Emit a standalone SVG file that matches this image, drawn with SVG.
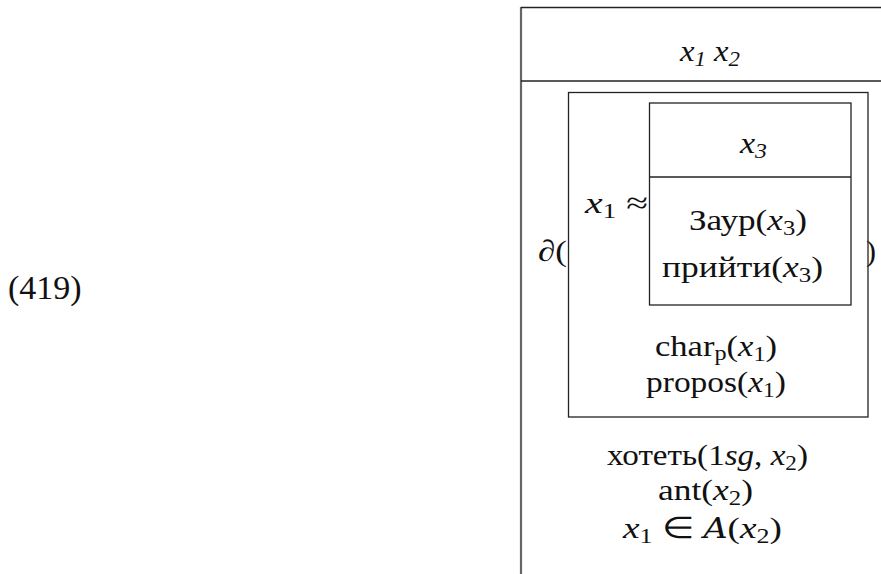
<svg xmlns="http://www.w3.org/2000/svg" width="881" height="574" viewBox="0 0 881 574">
<style>
.t{font-family:"Liberation Serif",serif;font-size:30px;fill:#111;}
.i{font-style:italic;}
.s{font-size:21px;}
.box{fill:none;stroke:#222;stroke-width:1.3;}
</style>
<rect width="881" height="574" fill="#fff"/>
<g id="label"><text class="t" x="8" y="299" style="font-size:34px">(419)</text></g>
<g id="outer">
<line x1="521" y1="7" x2="521" y2="574" stroke="#666" stroke-width="2.2"/>
<line x1="521" y1="7.5" x2="881" y2="7.5" stroke="#222" stroke-width="1.3"/>
<line x1="521" y1="81" x2="881" y2="81" stroke="#222" stroke-width="1.3"/>
<text class="t i" x="680" y="61" textLength="60" lengthAdjust="spacingAndGlyphs">x<tspan class="s" dy="5">1</tspan><tspan dy="-5"> x</tspan><tspan class="s" dy="5">2</tspan></text>
<text class="t" x="607" y="465" textLength="201" lengthAdjust="spacingAndGlyphs">хотеть(1<tspan class="i">sg</tspan>, <tspan class="i">x</tspan><tspan class="s" dy="5">2</tspan><tspan dy="-5">)</tspan></text>
<text class="t" x="658" y="500" textLength="95" lengthAdjust="spacingAndGlyphs">ant(<tspan class="i">x</tspan><tspan class="s" dy="5">2</tspan><tspan dy="-5">)</tspan></text>
<text class="t" x="623" y="538" textLength="159" lengthAdjust="spacingAndGlyphs"><tspan class="i">x</tspan><tspan class="s" dy="5">1</tspan><tspan dy="-5"> ∈ </tspan><tspan class="i" style="font-family:'DejaVu Serif',serif;font-size:27px">A</tspan>(<tspan class="i">x</tspan><tspan class="s" dy="5">2</tspan><tspan dy="-5">)</tspan></text>
</g>
<g id="partial">
<text class="t" x="538" y="261" textLength="29" lengthAdjust="spacingAndGlyphs"><tspan class="i">∂</tspan>(</text>
<text class="t" x="866" y="261">)</text>
<rect class="box" x="568.5" y="92.5" width="299.5" height="324.5"/>
<text class="t" x="585" y="213" textLength="63" lengthAdjust="spacingAndGlyphs"><tspan class="i">x</tspan><tspan class="s" dy="5">1</tspan><tspan dy="-5"> ≈</tspan></text>
<text class="t" x="655" y="356" textLength="122" lengthAdjust="spacingAndGlyphs">char<tspan class="s" dy="4">p</tspan><tspan dy="-4">(</tspan><tspan class="i">x</tspan><tspan class="s" dy="5">1</tspan><tspan dy="-5">)</tspan></text>
<text class="t" x="646" y="392" textLength="140" lengthAdjust="spacingAndGlyphs">propos(<tspan class="i">x</tspan><tspan class="s" dy="5">1</tspan><tspan dy="-5">)</tspan></text>
</g>
<g id="inner">
<rect class="box" x="649.5" y="103" width="201.5" height="202"/>
<line class="box" x1="649.5" y1="177" x2="851" y2="177"/>
<text class="t i" x="740" y="153" textLength="27" lengthAdjust="spacingAndGlyphs">x<tspan class="s" dy="5">3</tspan></text>
<text class="t" x="689" y="230" textLength="118" lengthAdjust="spacingAndGlyphs">Заур(<tspan class="i">x</tspan><tspan class="s" dy="5">3</tspan><tspan dy="-5">)</tspan></text>
<text class="t" x="662" y="277" textLength="161" lengthAdjust="spacingAndGlyphs">прийти(<tspan class="i">x</tspan><tspan class="s" dy="5">3</tspan><tspan dy="-5">)</tspan></text>
</g>
</svg>
